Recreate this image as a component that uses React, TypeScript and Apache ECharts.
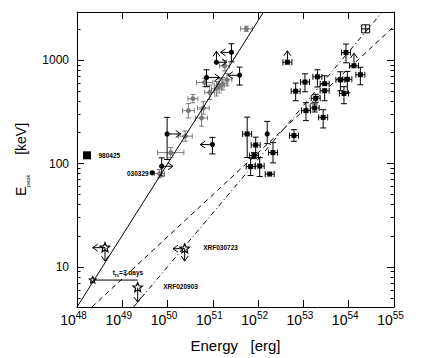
import React, { useEffect, useRef } from 'react';
import * as echarts from 'echarts';

// ---------- data (all values are log10: E in erg, Epeak in keV) ----------
const X_MIN = 48;
const X_MAX = 55;
const Y_MIN = 0.611;
const Y_MAX = 3.47;

const xTickExponents = [48, 49, 50, 51, 52, 53, 54, 55];
const yMajorTicks = [10, 100, 1000];
const yMinorTicks = [5, 6, 7, 8, 9, 20, 30, 40, 50, 60, 70, 80, 90, 200, 300, 400, 500, 600, 700, 800, 900, 2000];

// grey sample with errors on both axes (errors in dex)
const grayLogE = [51.74, 51.26, 51.31, 51.22, 51.14, 51.08, 50.93, 50.82, 50.56, 50.46, 50.79, 50.75, 50.39, 50.07, 49.82];
const grayLogEp = [3.307, 2.949, 2.813, 2.775, 2.755, 2.726, 2.691, 2.787, 2.63, 2.514, 2.54, 2.443, 2.267, 2.107, 1.904];
const grayErrE = [0.13, 0.11, 0.11, 0.11, 0.11, 0.11, 0.11, 0.18, 0.11, 0.13, 0.13, 0.13, 0.155, 0.29, 0.11];
const grayErrEp = [0.025, 0.05, 0.06, 0.06, 0.07, 0.07, 0.07, 0.04, 0.04, 0.07, 0.06, 0.08, 0.05, 0.05, 0.04];

// black circles (limits drawn as arrows)
const dotLogE = [51.41, 51.08, 50.86, 51.59, 49.99, 50.99, 49.87, 49.66, 52.2];
const dotLogEp = [3.079, 2.983, 2.836, 2.857, 2.288, 2.185, 1.975, 1.911, 2.288];
const dotEpHi = [3.162, null, 2.91, 2.936, 2.449, 2.255, 2.056, null, 2.41];
const dotEpLo = [2.987, null, 2.746, 2.762, 2.04, 2.095, 1.88, null, 2.194];
const dotLimE = [51.17, 51.31, 51.15, 51.33, 50.29, 50.72, 50.12, null, null];
const dotLimEp = [null, 3.089, null, null, null, null, null, null, null];

// black squares (isotropic energies)
const sqLogE = [52.646, 52.829, 53.034, 53.308, 53.469, 53.469, 53.271, 53.249, 53.056, 53.436, 52.791, 53.94, 54.116, 53.816, 53.97, 53.895, 54.257, 51.758, 51.946, 51.908, 52.328, 51.835, 52.034, 52.255];
const sqLogEp = [2.983, 2.702, 2.791, 2.842, 2.775, 2.707, 2.634, 2.54, 2.514, 2.449, 2.272, 3.077, 2.949, 2.813, 2.818, 2.68, 2.862, 2.288, 2.18, 2.078, 2.107, 1.972, 1.977, 1.899];
const sqEpHi = [null, 2.781, 2.871, 2.91, 2.852, null, 2.673, 2.579, 2.591, 2.523, 2.33, 3.159, null, 2.891, 2.894, 2.746, 2.934, 2.451, 2.257, 2.107, 2.204, 2.056, 2.059, null];
const sqEpLo = [null, 2.61, 2.697, 2.743, null, 2.61, 2.595, 2.501, 2.417, 2.346, 2.217, 2.978, null, 2.707, 2.687, 2.581, 2.765, 2.059, 2.083, 2.049, 2.008, 1.885, 1.875, null];
const sqLimEp = [3.094, null, null, null, null, null, null, null, null, null, null, null, 3.072, null, null, null, null, null, null, null, null, null, null, null];

const openSqLogE = [54.374];
const openSqLogEp = [3.307];

// XRF stars
const starLogE = [48.618, 48.347, 49.34, 50.378];
const starLogEp = [1.186, 0.872, 0.799, 1.176];
const starLimE = [48.347, null, null, 50.12];
const starLimEp = [1.056, null, 0.657, 1.056];

const grb980425LogE = [48.221];
const grb980425LogEp = [2.081];

// relations
const solidLine = [[48.0, 0.611], [52.12, 3.47]];
const dashedLine = [[48.33, 0.611], [55.0, 3.33]];
const dashDotLine = [[49.25, 0.611], [54.74, 3.47]];
const trsLine = [[48.347, 0.872], [49.34, 0.872]];

// labels anchored to points
const labelText = ['980425', '030329', 'XRF030723', 'XRF020903', '{t|t}{s|rs}{t|=3 days}'];
const labelLogE = [48.221, 49.66, 50.378, 49.34, 48.347];
const labelLogEp = [2.081, 1.911, 1.176, 0.799, 0.872];

// ---------- styling ----------
const FONT = 'Liberation Sans, Arial, sans-serif';
const GRAY = '#7a7a7a';
const BLACK = '#000';
const labelStyle = [
  { dx: 11.5, dy: 0, align: 'left' },
  { dx: -3.5, dy: 0.5, align: 'right' },
  { dx: 18.5, dy: -1.5, align: 'left' },
  { dx: 25.5, dy: -1.5, align: 'left' },
  { dx: 20, dy: -7.5, align: 'left' },
];

const L = (a: number[], b: number[], stroke = BLACK) => ({
  type: 'line',
  shape: { x1: a[0], y1: a[1], x2: b[0], y2: b[1] },
  style: { stroke, lineWidth: 1 },
});

const arrow = (p0: number[], p1: number[], stroke = BLACK) => {
  const dx = p1[0] - p0[0];
  const dy = p1[1] - p0[1];
  const len = Math.hypot(dx, dy) || 1;
  const ux = dx / len;
  const uy = dy / len;
  const h = 5;
  const w = 3.5;
  const a = [p1[0] - ux * h - uy * w, p1[1] - uy * h + ux * w];
  const b = [p1[0] - ux * h + uy * w, p1[1] - uy * h - ux * w];
  return [
    L(p0, p1, stroke),
    { type: 'polyline', shape: { points: [a, p1, b] }, style: { stroke, fill: 'none', lineWidth: 1 } },
  ];
};

const vErr = (api: any, e: number, p: number, hi: number | null, lo: number | null, cap = 3) => {
  const out: any[] = [];
  const c = api.coord([e, p]);
  if (hi != null) {
    const t = api.coord([e, hi]);
    out.push(L(c, t), L([t[0] - cap, t[1]], [t[0] + cap, t[1]]));
  }
  if (lo != null) {
    const b = api.coord([e, lo]);
    out.push(L(c, b), L([b[0] - cap, b[1]], [b[0] + cap, b[1]]));
  }
  return out;
};

const starPoints = (c: number[], R: number) => {
  const pts: number[][] = [];
  for (let k = 0; k < 10; k++) {
    const ang = -Math.PI / 2 + (k * Math.PI) / 5;
    const r = k % 2 === 0 ? R : R * 0.45;
    pts.push([c[0] + r * Math.cos(ang), c[1] + r * Math.sin(ang)]);
  }
  return pts;
};

const toPairs = (xs: number[], ys: number[]) => xs.map((x, i) => [x, ys[i]]);

const common = { coordinateSystem: 'cartesian2d', xAxisIndex: 0, yAxisIndex: 0, clip: true, silent: true };

const option: any = {
  animation: false,
  backgroundColor: '#fff',
  grid: { left: 77, right: 29, top: 12, bottom: 50 },
  xAxis: [
    {
      type: 'value',
      position: 'bottom',
      min: X_MIN,
      max: X_MAX,
      interval: 1,
      axisLine: { lineStyle: { color: BLACK, width: 1 } },
      axisTick: { inside: true, length: 7, lineStyle: { color: BLACK } },
      splitLine: { show: false },
      axisLabel: {
        margin: 3,
        showMinLabel: true,
        showMaxLabel: true,
        customValues: xTickExponents,
        formatter: (v: number) => `{b|10}{s|${Math.round(v)}}`,
        rich: {
          b: { fontSize: 14, fontFamily: FONT, color: BLACK, lineHeight: 20 },
          s: { fontSize: 10, fontFamily: FONT, color: BLACK, lineHeight: 9, verticalAlign: 'top', padding: [0, 7, 0, 0] },
        },
      },
      name: 'Energy   [erg]',
      nameLocation: 'middle',
      nameGap: 31,
      nameTextStyle: { fontSize: 15, fontFamily: FONT, color: BLACK },
    },
    {
      type: 'value',
      position: 'top',
      min: X_MIN,
      max: X_MAX,
      interval: 1,
      axisLine: { lineStyle: { color: BLACK, width: 1 } },
      axisTick: { inside: true, length: 7, lineStyle: { color: BLACK } },
      axisLabel: { show: false },
      splitLine: { show: false },
    },
  ],
  yAxis: [
    {
      type: 'value',
      position: 'left',
      min: Y_MIN,
      max: Y_MAX,
      axisLine: { lineStyle: { color: BLACK, width: 1 } },
      axisTick: { inside: true, length: 7, customValues: yMajorTicks.map(Math.log10), lineStyle: { color: BLACK } },
      splitLine: { show: false },
      axisLabel: {
        margin: 8,
        customValues: yMajorTicks.map(Math.log10),
        formatter: (v: number) => String(Math.round(Math.pow(10, v))),
        fontSize: 12,
        fontFamily: FONT,
        color: BLACK,
      },
      name: '{e|E}{p|peak}      {k|[keV]}',
      nameLocation: 'middle',
      nameRotate: 90,
      nameGap: 44,
      nameTextStyle: {
        rich: {
          e: { fontSize: 14, fontFamily: FONT, color: BLACK, lineHeight: 20 },
          p: { fontSize: 5.5, fontFamily: FONT, color: BLACK, lineHeight: 8, verticalAlign: 'bottom' },
          k: { fontSize: 14, fontFamily: FONT, color: BLACK, lineHeight: 20 },
        },
      },
    },
    {
      type: 'value',
      position: 'left',
      min: Y_MIN,
      max: Y_MAX,
      axisLine: { show: false },
      axisTick: { inside: true, length: 3.5, customValues: yMinorTicks.map(Math.log10), lineStyle: { color: BLACK } },
      axisLabel: { show: false },
      splitLine: { show: false },
    },
    {
      type: 'value',
      position: 'right',
      min: Y_MIN,
      max: Y_MAX,
      axisLine: { lineStyle: { color: BLACK, width: 1 } },
      axisTick: { inside: true, length: 7, customValues: yMajorTicks.map(Math.log10), lineStyle: { color: BLACK } },
      axisLabel: { show: false },
      splitLine: { show: false },
    },
    {
      type: 'value',
      position: 'right',
      min: Y_MIN,
      max: Y_MAX,
      axisLine: { show: false },
      axisTick: { inside: true, length: 3.5, customValues: yMinorTicks.map(Math.log10), lineStyle: { color: BLACK } },
      axisLabel: { show: false },
      splitLine: { show: false },
    },
  ],
  series: [
    {
      type: 'line', name: 'solid', data: solidLine, symbol: 'none', silent: true,
      lineStyle: { color: BLACK, width: 1, type: 'solid' },
    },
    {
      type: 'line', name: 'dashed', data: dashedLine, symbol: 'none', silent: true,
      lineStyle: { color: BLACK, width: 1, type: [5, 4] },
    },
    {
      type: 'line', name: 'dashdot', data: dashDotLine, symbol: 'none', silent: true,
      lineStyle: { color: BLACK, width: 1, type: [5, 3, 1, 3] },
    },
    {
      type: 'line', name: 'trs', data: trsLine, symbol: 'none', silent: true,
      lineStyle: { color: BLACK, width: 1, type: 'solid' },
    },
    {
      ...common,
      type: 'custom',
      name: 'gray',
      data: toPairs(grayLogE, grayLogEp),
      renderItem: (params: any, api: any) => {
        const i = params.dataIndex;
        const e = grayLogE[i], p = grayLogEp[i], ex = grayErrE[i], ey = grayErrEp[i];
        const c = api.coord([e, p]);
        const l = api.coord([e - ex, p]);
        const r = api.coord([e + ex, p]);
        const t = api.coord([e, p + ey]);
        const b = api.coord([e, p - ey]);
        const cap = 2.5;
        return {
          type: 'group',
          children: [
            L(l, r, GRAY), L(t, b, GRAY),
            L([l[0], l[1] - cap], [l[0], l[1] + cap], GRAY),
            L([r[0], r[1] - cap], [r[0], r[1] + cap], GRAY),
            L([t[0] - cap, t[1]], [t[0] + cap, t[1]], GRAY),
            L([b[0] - cap, b[1]], [b[0] + cap, b[1]], GRAY),
            { type: 'circle', shape: { cx: c[0], cy: c[1], r: 2.5 }, style: { fill: GRAY } },
          ],
        };
      },
    },
    {
      ...common,
      type: 'custom',
      name: 'dots',
      data: toPairs(dotLogE, dotLogEp),
      renderItem: (params: any, api: any) => {
        const i = params.dataIndex;
        const e = dotLogE[i], p = dotLogEp[i];
        const c = api.coord([e, p]);
        const children: any[] = [...vErr(api, e, p, dotEpHi[i], dotEpLo[i])];
        if (dotLimE[i] != null) children.push(...arrow(c, api.coord([dotLimE[i], p])));
        if (dotLimEp[i] != null) children.push(...arrow(c, api.coord([e, dotLimEp[i]])));
        children.push({ type: 'circle', shape: { cx: c[0], cy: c[1], r: 2.6 }, style: { fill: BLACK } });
        return { type: 'group', children };
      },
    },
    {
      ...common,
      type: 'custom',
      name: 'squares',
      data: toPairs(sqLogE, sqLogEp),
      renderItem: (params: any, api: any) => {
        const i = params.dataIndex;
        const e = sqLogE[i], p = sqLogEp[i];
        const c = api.coord([e, p]);
        const children: any[] = [...vErr(api, e, p, sqEpHi[i], sqEpLo[i])];
        if (sqLimEp[i] != null) children.push(...arrow(c, api.coord([e, sqLimEp[i]])));
        children.push(
          L([c[0] - 4.5, c[1]], [c[0] + 4.5, c[1]]),
          L([c[0] - 4.5, c[1] - 3], [c[0] - 4.5, c[1] + 3]),
          L([c[0] + 4.5, c[1] - 3], [c[0] + 4.5, c[1] + 3]),
          { type: 'rect', shape: { x: c[0] - 2.5, y: c[1] - 2.5, width: 5, height: 5 }, style: { fill: BLACK } },
        );
        return { type: 'group', children };
      },
    },
    {
      ...common,
      type: 'custom',
      name: 'openSquare',
      data: toPairs(openSqLogE, openSqLogEp),
      renderItem: (params: any, api: any) => {
        const i = params.dataIndex;
        const c = api.coord([openSqLogE[i], openSqLogEp[i]]);
        return {
          type: 'group',
          children: [
            { type: 'rect', shape: { x: c[0] - 4, y: c[1] - 4, width: 8, height: 8 }, style: { fill: 'none', stroke: BLACK, lineWidth: 1 } },
            L([c[0] - 4, c[1]], [c[0] + 4, c[1]]),
            L([c[0], c[1] - 4], [c[0], c[1] + 4]),
          ],
        };
      },
    },
    {
      ...common,
      type: 'custom',
      name: 'stars',
      data: toPairs(starLogE, starLogEp),
      renderItem: (params: any, api: any) => {
        const i = params.dataIndex;
        const e = starLogE[i], p = starLogEp[i];
        const c = api.coord([e, p]);
        const children: any[] = [];
        if (starLimE[i] != null) children.push(...arrow(c, api.coord([starLimE[i], p])));
        if (starLimEp[i] != null) children.push(...arrow(c, api.coord([e, starLimEp[i]])));
        children.push({
          type: 'polygon',
          shape: { points: starPoints(c, i === 1 ? 3.5 : 5) },
          style: { fill: 'none', stroke: BLACK, lineWidth: 1.2 },
        });
        return { type: 'group', children };
      },
    },
    {
      ...common,
      type: 'custom',
      name: '980425',
      data: toPairs(grb980425LogE, grb980425LogEp),
      renderItem: (params: any, api: any) => {
        const c = api.coord([grb980425LogE[params.dataIndex], grb980425LogEp[params.dataIndex]]);
        return { type: 'rect', shape: { x: c[0] - 4, y: c[1] - 4, width: 8, height: 8 }, style: { fill: BLACK } };
      },
    },
    {
      ...common,
      type: 'custom',
      name: 'labels',
      clip: false,
      data: toPairs(labelLogE, labelLogEp),
      renderItem: (params: any, api: any) => {
        const i = params.dataIndex;
        const c = api.coord([labelLogE[i], labelLogEp[i]]);
        const s = labelStyle[i];
        return {
          type: 'text',
          x: c[0] + s.dx,
          y: c[1] + s.dy,
          style: {
            text: labelText[i],
            fill: BLACK,
            fontSize: 6.5,
            fontFamily: FONT,
            fontWeight: 'bold',
            align: s.align,
            verticalAlign: 'middle',
            rich: {
              t: { fontSize: 6.5, fontFamily: FONT, fontWeight: 'bold', fill: BLACK, lineHeight: 10 },
              s: { fontSize: 4.5, fontFamily: FONT, fontWeight: 'bold', fill: BLACK, lineHeight: 5, verticalAlign: 'bottom' },
            },
          },
        };
      },
    },
  ],
};

export default function App() {
  const ref = useRef<HTMLDivElement>(null);
  useEffect(() => {
    if (!ref.current) return;
    const chart = echarts.init(ref.current, null, { renderer: 'svg' });
    chart.setOption(option);
    return () => chart.dispose();
  }, []);
  return (
    <div
      ref={ref}
      style={{ position: 'fixed', left: 0, top: 0, width: 423, height: 358, background: '#fff' }}
    />
  );
}
